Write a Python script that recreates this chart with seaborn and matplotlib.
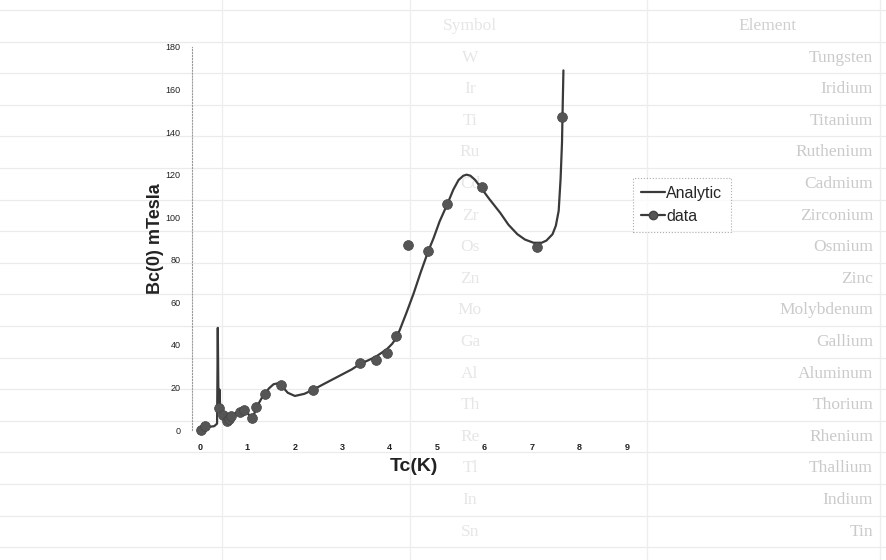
import pandas as pd
import seaborn as sns
import matplotlib.pyplot as plt
from matplotlib.lines import Line2D

# measured points (Tc in K, Bc(0) in mTesla)
tc_data = [0.015, 0.1, 0.39, 0.49, 0.56, 0.61, 0.66, 0.85, 0.92, 1.09, 1.18, 1.38, 1.70,
           2.39, 3.37, 3.71, 3.94, 4.13, 4.39, 4.81, 5.21, 5.95, 7.10, 7.64]
bc_data = [0.1, 1.9, 10.5, 7.0, 4.0, 5.0, 6.5, 8.5, 9.5, 5.5, 10.8, 17.0, 21.0,
           19.0, 31.5, 33.0, 36.0, 44.0, 87.0, 84.0, 106.0, 114.0, 86.0, 147.0]

# analytic curve
tc_curve = [0.0, 0.1, 0.2, 0.3, 0.36, 0.375, 0.39, 0.41, 0.43, 0.49, 0.55, 0.6, 0.66, 0.75,
            0.85, 0.92, 1.0, 1.09, 1.15, 1.2, 1.3, 1.38, 1.45, 1.55, 1.65, 1.75, 1.85, 2.0,
            2.2, 2.39, 2.6, 2.9, 3.2, 3.37, 3.55, 3.71, 3.94, 4.05, 4.13, 4.21, 4.35, 4.5,
            4.65, 4.81, 4.92, 5.05, 5.21, 5.34, 5.45, 5.55, 5.62, 5.7, 5.8, 5.95, 6.1,
            6.33, 6.5, 6.69, 6.85, 7.03, 7.2, 7.3, 7.43, 7.5, 7.56, 7.6, 7.63, 7.64, 7.66]
bc_curve = [0.5, 1.5, 1.5, 1.8, 3.0, 48.0, 10.5, 19.0, 8.0, 6.5, 4.0, 4.5, 6.5, 8.0,
            8.5, 9.5, 8.0, 5.5, 8.0, 11.0, 15.0, 17.0, 19.5, 21.5, 22.0, 20.0, 17.5, 16.0,
            17.0, 19.0, 21.5, 25.0, 28.5, 31.0, 32.8, 34.5, 38.0, 40.5, 43.0, 47.0, 55.0, 64.0,
            74.0, 84.0, 90.0, 98.0, 106.0, 113.0, 117.5, 119.5, 120.0, 119.5, 117.5, 113.0, 108.5,
            102.0, 96.5, 92.0, 89.5, 88.0, 88.0, 89.0, 92.0, 96.0, 103.0, 118.0, 135.0, 147.0, 169.0]

y_ticks = list(range(0, 181, 20))
x_ticks = list(range(0, 10))

# the printed table that shows behind the chart on the scanned page
elements = ['Element', 'Tungsten', 'Iridium', 'Titanium', 'Ruthenium', 'Cadmium', 'Zirconium',
            'Osmium', 'Zinc', 'Molybdenum', 'Gallium', 'Aluminum', 'Thorium', 'Rhenium',
            'Thallium', 'Indium', 'Tin']
symbols = ['Symbol', 'W', 'Ir', 'Ti', 'Ru', 'Cd', 'Zr', 'Os', 'Zn', 'Mo', 'Ga', 'Al', 'Th',
           'Re', 'Tl', 'In', 'Sn']

df_data = pd.DataFrame({'Tc': tc_data, 'Bc': bc_data})
df_curve = pd.DataFrame({'Tc': tc_curve, 'Bc': bc_curve})

sns.set_style('white')
plt.rcParams['font.family'] = ['Liberation Sans', 'DejaVu Sans']

W, H = 887, 560
fig = plt.figure(figsize=(W / 100, H / 100), dpi=100)

# faint table in the background
for i in range(len(elements) + 1):
    y = 1 - (10 + 31.6 * i) / H
    fig.add_artist(Line2D([0, 1], [y, y], transform=fig.transFigure,
                          color='#ebebeb', lw=0.9, zorder=-2))
for xp in [222, 410, 647, 880]:
    fig.add_artist(Line2D([xp / W, xp / W], [0, 1], transform=fig.transFigure,
                          color='#eeeeee', lw=0.9, zorder=-2))
for i, (el, sym) in enumerate(zip(elements, symbols)):
    y = 1 - (26 + 31.6 * i) / H
    if i == 0:
        fig.text(768 / W, y, el, ha='center', va='center', fontsize=12.5,
                 family='Liberation Serif', color='#d0d0d0', zorder=-1)
    else:
        fig.text(873 / W, y, el, ha='right', va='center', fontsize=12.5,
                 family='Liberation Serif', color='#cacaca', zorder=-1)
    fig.text(470 / W, y, sym, ha='center', va='center', fontsize=12.5,
             family='Liberation Serif', color='#e6e6e6', zorder=-1)

ax = fig.add_axes([200 / W, 1 - 430 / H, 427 / W, 383 / H])
ax.patch.set_alpha(0)

sns.lineplot(data=df_curve, x='Tc', y='Bc', sort=False, ax=ax, color='#3a3a3a', lw=1.6)
sns.scatterplot(data=df_data, x='Tc', y='Bc', ax=ax, color='#555555', s=50,
                edgecolor='#444444', linewidth=0.5, zorder=3, clip_on=False)

ax.set_xlim(0, 9)
ax.set_ylim(0, 180)
ax.set_xticks(x_ticks)
ax.set_yticks(y_ticks)
ax.tick_params(axis='x', length=0, pad=9, labelsize=6.5, colors='#222222')
ax.tick_params(axis='y', length=2, width=0.6, pad=6, labelsize=6.5, colors='#222222')
for lab in ax.get_xticklabels() + ax.get_yticklabels():
    lab.set_fontweight('bold')

sns.despine(ax=ax, top=True, right=True, bottom=True)
ax.spines['left'].set_position(('outward', 6))
ax.spines['left'].set_linestyle(':')
ax.spines['left'].set_color('#999999')
ax.spines['left'].set_linewidth(0.8)

ax.set_xlabel('Tc(K)', fontsize=14, fontweight='bold', color='#222222')
ax.set_ylabel('Bc(0) mTesla', fontsize=13, fontweight='bold', color='#222222')
ax.xaxis.set_label_coords(0.5, -0.072)
ax.yaxis.set_label_coords(-0.084, 0.5)

handles = [Line2D([], [], color='#3a3a3a', lw=1.6),
           Line2D([], [], color='#3a3a3a', lw=1.6, marker='o', markersize=6,
                  markerfacecolor='#555555', markeredgecolor='#444444')]
leg = ax.legend(handles, ['Analytic', 'data'], loc='upper left',
                bbox_to_anchor=(0.995, 0.68), fontsize=11.5, handlelength=1.5,
                handletextpad=0.1, labelspacing=0.5, borderpad=0.5,
                frameon=True, fancybox=False)
leg.get_frame().set_edgecolor('#999999')
leg.get_frame().set_linestyle(':')
leg.get_frame().set_linewidth(0.8)

fig.savefig('out.png', dpi=100)
